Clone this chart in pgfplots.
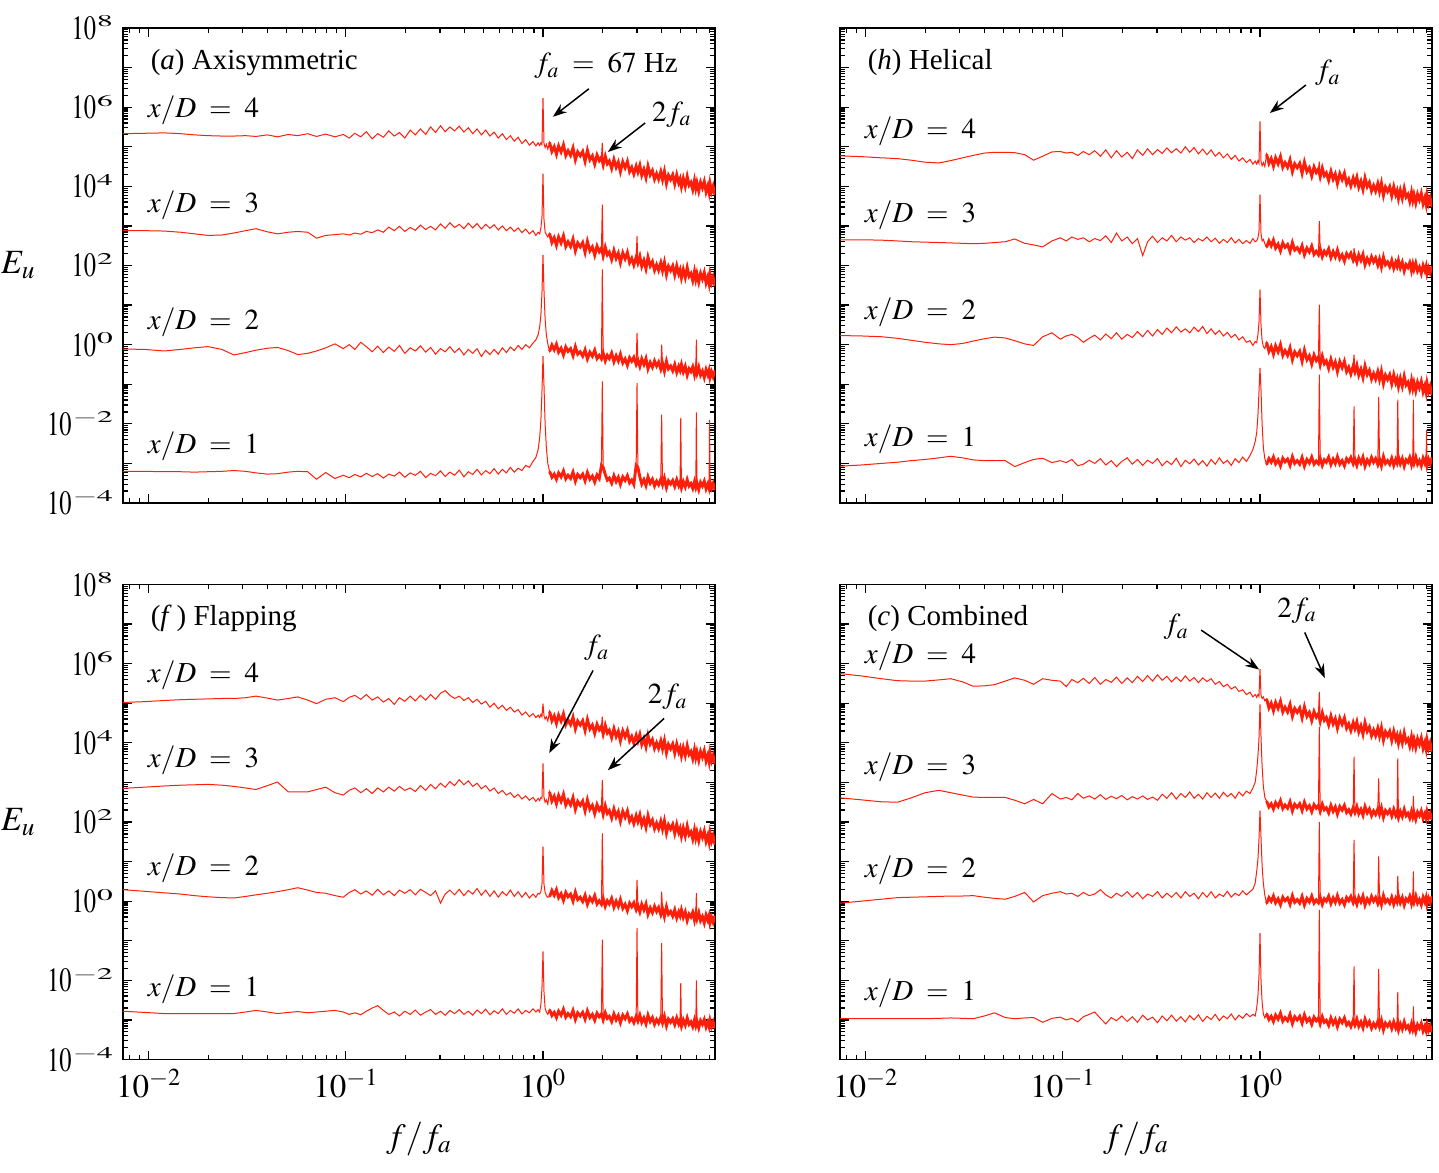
\documentclass[border=0pt]{standalone}
\usepackage{mathptmx}
\usepackage[no-math]{fontspec}
\setmainfont{Liberation Serif}
\usepackage{graphicx}
\usepackage{pgfplots}
\usepackage{pgfplotstable}
\pgfplotsset{compat=1.18}
\usetikzlibrary{arrows.meta}
\definecolor{specred}{RGB}{255,30,10}
\newcommand{\ytl}[1]{\scalebox{0.72}[1]{$10$}\kern0.6pt\raisebox{6.3pt}{\scalebox{1.25}[0.65]{$\scriptstyle #1$}}}
\newcommand{\xd}[1]{$x/D\;=\;#1$}

% TL: Axisymmetric   columns: f, x/D=4, 3, 2, 1  (log10 of E_u)
\pgfplotstableread{
f y4 y3 y2 y1
0.0074 5.33 2.88 -0.11 -3.20
0.0095 5.34 2.88 -0.12 -3.20
0.012 5.35 2.87 -0.16 -3.21
0.0145 5.33 2.84 -0.12 -3.21
0.017 5.30 2.80 -0.08 -3.22
0.02 5.28 2.76 -0.05 -3.21
0.0235 5.27 2.77 -0.12 -3.20
0.027 5.27 2.82 -0.26 -3.18
0.031 5.28 2.88 -0.20 -3.20
0.035 5.26 2.93 -0.14 -3.24
0.04 5.30 2.85 -0.09 -3.27
0.045 5.25 2.80 -0.07 -3.26
0.051 5.31 2.84 -0.15 -3.22
0.057 5.28 2.86 -0.25 -3.20
0.064 5.33 2.84 -0.22 -3.21
0.071 5.26 2.69 -0.16 -3.40
0.079 5.32 2.76 -0.08 -3.23
0.088 5.25 2.78 0.02 -3.38
0.097 5.31 2.80 -0.10 -3.30
0.104 5.22 2.77 0.00 -3.36
0.111 5.34 2.82 -0.12 -3.28
0.119 5.25 2.79 0.06 -3.34
0.127 5.38 2.86 -0.05 -3.25
0.136 5.20 2.83 -0.18 -3.33
0.145 5.33 2.90 -0.04 -3.26
0.155 5.24 2.84 -0.20 -3.37
0.165 5.40 2.97 -0.06 -3.27
0.176 5.27 2.88 -0.17 -3.32
0.187 5.36 2.99 -0.02 -3.22
0.199 5.22 2.86 -0.22 -3.35
0.212 5.42 2.96 -0.08 -3.24
0.225 5.30 2.89 -0.16 -3.30
0.239 5.45 3.02 -0.03 -3.20
0.254 5.31 2.91 -0.19 -3.36
0.269 5.50 2.99 -0.07 -3.25
0.285 5.36 2.90 -0.24 -3.31
0.302 5.53 3.05 -0.10 -3.19
0.319 5.38 2.94 -0.18 -3.33
0.337 5.50 3.08 -0.05 -3.22
0.356 5.40 2.96 -0.20 -3.30
0.376 5.52 3.04 -0.09 -3.17
0.397 5.37 2.93 -0.26 -3.34
0.418 5.48 3.07 -0.12 -3.21
0.44 5.33 2.95 -0.22 -3.28
0.463 5.45 3.06 -0.10 -3.15
0.487 5.30 2.92 -0.30 -3.29
0.512 5.42 3.04 -0.14 -3.18
0.538 5.27 2.94 -0.25 -3.26
0.565 5.37 3.03 -0.12 -3.13
0.593 5.22 2.90 -0.24 -3.27
0.622 5.33 3.00 -0.08 -3.15
0.652 5.18 2.88 -0.20 -3.24
0.683 5.28 2.97 -0.06 -3.10
0.715 5.14 2.86 -0.15 -3.22
0.748 5.24 2.95 -0.02 -3.12
0.782 5.08 2.83 -0.12 -3.18
0.817 5.18 2.92 0.00 -3.05
0.853 5.04 2.80 -0.08 -3.10
0.89 5.13 2.88 0.04 -2.95
0.92 5.02 2.76 0.12 -2.85
0.945 5.10 2.84 0.25 -2.65
0.962 5.03 2.80 0.45 -2.35
0.976 5.10 2.95 0.75 -1.90
0.988 5.05 3.20 1.30 -1.20
1.0 6.23 4.32 2.27 -0.29
1.012 5.08 3.15 1.35 -1.05
1.025 4.98 2.85 0.65 -2.00
1.04 5.06 2.78 0.25 -2.60
1.058 4.94 2.72 0.02 -3.00
1.08 5.11 2.81 -0.17 -3.20
1.11 4.88 2.58 -0.01 -3.35
1.14 5.00 2.70 -0.13 -3.27
1.17 4.81 2.51 0.01 -3.40
1.2 5.02 2.72 -0.19 -3.24
1.235 4.87 2.57 -0.09 -3.34
1.27 5.05 2.75 -0.26 -3.19
1.305 4.78 2.48 -0.06 -3.39
1.34 4.90 2.60 -0.17 -3.30
1.38 4.78 2.48 -0.10 -3.38
1.42 4.97 2.67 -0.28 -3.22
1.46 4.67 2.37 -0.05 -3.45
1.5 4.87 2.57 -0.24 -3.28
1.545 4.77 2.47 -0.18 -3.36
1.59 4.88 2.58 -0.29 -3.27
1.635 4.63 2.33 -0.13 -3.44
1.68 4.91 2.61 -0.36 -3.23
1.73 4.67 2.37 -0.19 -3.40
1.78 4.77 2.47 -0.29 -3.32
1.83 4.56 2.26 -0.14 -3.47
1.88 4.79 2.49 -0.35 -3.29
1.93 4.65 2.35 -0.27 -3.38
1.98 4.74 2.44 -0.36 -3.05
2.0 5.10 3.54 1.90 -0.93
2.02 4.54 2.24 -0.21 -3.10
2.07 4.76 2.46 -0.41 -3.28
2.12 4.57 2.27 -0.27 -3.42
2.17 4.64 2.34 -0.35 -3.37
2.23 4.45 2.15 -0.21 -3.50
2.29 4.68 2.38 -0.43 -3.31
2.35 4.48 2.18 -0.28 -3.46
2.41 4.61 2.31 -0.41 -3.35
2.47 4.37 2.07 -0.24 -3.53
2.54 4.62 2.32 -0.46 -3.34
2.61 4.47 2.17 -0.36 -3.43
2.68 4.63 2.33 -0.52 -3.31
2.75 4.37 2.07 -0.33 -3.49
2.82 4.48 2.18 -0.42 -3.42
2.89 4.31 2.01 -0.32 -3.53
2.97 4.51 2.21 -0.50 -3.05
3.0 4.42 2.74 0.30 -0.97
3.03 4.36 2.06 -0.39 -3.10
3.1 4.53 2.23 -0.55 -3.34
3.17 4.28 1.98 -0.36 -3.52
3.25 4.43 2.13 -0.50 -3.41
3.33 4.22 1.92 -0.35 -3.56
3.41 4.51 2.21 -0.61 -3.34
3.5 4.29 1.99 -0.45 -3.50
3.59 4.40 2.10 -0.57 -3.40
3.68 4.18 1.88 -0.41 -3.57
3.77 4.32 2.02 -0.54 -3.45
3.86 4.18 1.88 -0.44 -3.54
3.96 4.37 2.07 -0.62 -3.40
4.0 4.26 1.96 0.00 -1.77
4.04 4.17 1.87 -0.47 -3.54
4.13 4.38 2.08 -0.67 -3.37
4.23 4.07 1.77 -0.42 -3.61
4.33 4.28 1.98 -0.61 -3.44
4.44 4.17 1.87 -0.54 -3.52
4.55 4.29 1.99 -0.66 -3.43
4.66 4.06 1.76 -0.50 -3.58
4.77 4.29 1.99 -0.70 -3.41
4.88 4.09 1.79 -0.55 -3.56
4.96 4.19 1.89 -0.65 -3.47
5.0 4.13 1.83 -0.61 -1.85
5.04 3.99 1.69 -0.50 -3.62
5.15 4.20 1.90 -0.69 -3.46
5.27 4.00 1.70 -0.55 -3.59
5.39 4.25 1.95 -0.77 -3.41
5.51 4.03 1.73 -0.61 -3.57
5.63 4.10 1.80 -0.68 -3.51
5.75 3.92 1.62 -0.56 -3.63
5.87 4.15 1.85 -0.76 -3.46
5.96 3.95 1.65 -0.60 -3.60
6.0 4.03 1.73 0.13 -1.71
6.04 4.09 1.79 -0.73 -3.49
6.17 3.88 1.58 -0.57 -3.66
6.3 4.10 1.80 -0.77 -3.48
6.44 3.96 1.66 -0.67 -3.57
6.58 4.12 1.82 -0.83 -3.45
6.72 3.86 1.56 -0.63 -3.64
6.86 4.01 1.71 -0.76 -3.52
6.96 3.85 1.55 -0.65 -3.63
7.0 3.94 1.64 -0.73 -1.90
7.04 4.07 1.77 -0.83 -3.47
7.17 3.87 1.57 -0.69 -3.62
7.3 4.00 1.70 -0.81 -3.51
7.46 3.78 1.48 -0.65 -3.67
}\tabA

% TR: Helical
\pgfplotstableread{
f y4 y3 y2 y1
0.0074 4.77 2.65 0.23 -3.07
0.0095 4.75 2.65 0.22 -3.04
0.012 4.72 2.64 0.20 -3.00
0.0145 4.70 2.62 0.16 -2.97
0.017 4.66 2.60 0.11 -2.93
0.02 4.61 2.59 0.06 -2.90
0.0235 4.59 2.58 0.02 -2.86
0.027 4.65 2.57 0.00 -2.82
0.031 4.72 2.56 0.03 -2.86
0.035 4.78 2.55 0.09 -2.91
0.04 4.84 2.56 0.15 -2.93
0.045 4.86 2.58 0.19 -2.93
0.051 4.86 2.60 0.17 -2.93
0.057 4.85 2.67 0.10 -3.08
0.064 4.80 2.56 0.02 -2.98
0.071 4.66 2.52 -0.02 -2.90
0.079 4.76 2.47 0.20 -2.87
0.088 4.87 2.62 0.30 -2.98
0.097 4.88 2.70 0.14 -2.93
0.104 4.84 2.62 0.22 -2.98
0.111 4.86 2.72 0.26 -2.90
0.119 4.78 2.66 0.18 -3.06
0.127 4.88 2.70 0.06 -3.02
0.136 4.80 2.60 0.16 -2.92
0.145 4.90 2.68 0.24 -3.00
0.155 4.76 2.63 0.12 -2.88
0.165 4.92 2.75 0.27 -3.04
0.176 4.72 2.58 0.15 -2.93
0.187 4.90 2.82 0.30 -3.08
0.199 4.74 2.62 0.14 -2.95
0.212 4.86 2.72 0.26 -2.86
0.225 4.70 2.55 0.18 -3.02
0.239 4.92 2.68 0.33 -2.90
0.254 4.78 2.25 0.20 -3.05
0.269 4.95 2.60 0.36 -2.92
0.285 4.80 2.74 0.22 -3.00
0.302 4.93 2.58 0.38 -2.88
0.319 4.83 2.70 0.26 -3.06
0.337 4.97 2.62 0.42 -2.94
0.356 4.85 2.76 0.30 -3.03
0.376 4.95 2.60 0.45 -2.87
0.397 4.84 2.72 0.32 -3.08
0.418 5.00 2.64 0.40 -2.92
0.44 4.86 2.70 0.30 -3.01
0.463 4.98 2.58 0.44 -2.89
0.487 4.82 2.68 0.33 -3.04
0.512 4.94 2.62 0.46 -2.93
0.538 4.80 2.72 0.28 -3.07
0.565 4.92 2.60 0.40 -2.90
0.593 4.76 2.69 0.26 -3.02
0.622 4.86 2.56 0.36 -2.86
0.652 4.72 2.66 0.22 -3.00
0.683 4.82 2.58 0.31 -2.92
0.715 4.68 2.70 0.18 -3.05
0.748 4.78 2.57 0.26 -2.88
0.782 4.64 2.66 0.12 -2.98
0.817 4.72 2.55 0.20 -2.84
0.853 4.60 2.63 0.06 -2.95
0.89 4.68 2.56 0.10 -2.80
0.92 4.56 2.68 -0.02 -2.65
0.945 4.64 2.60 0.08 -2.45
0.962 4.56 2.62 0.05 -2.23
0.976 4.65 2.70 0.25 -1.80
0.988 4.58 2.85 0.55 -1.20
1.0 5.64 3.79 1.39 -0.59
1.012 4.62 2.80 0.50 -1.15
1.025 4.52 2.62 0.10 -2.00
1.04 4.60 2.66 -0.05 -2.60
1.058 4.50 2.55 -0.10 -2.88
1.08 4.81 2.46 0.06 -3.03
1.11 4.58 2.62 -0.17 -2.88
1.14 4.70 2.50 -0.05 -2.97
1.17 4.51 2.64 -0.24 -2.84
1.2 4.72 2.44 -0.03 -3.01
1.235 4.57 2.54 -0.18 -2.91
1.27 4.75 2.37 0.00 -3.06
1.305 4.48 2.57 -0.27 -2.87
1.34 4.60 2.46 -0.15 -2.96
1.38 4.48 2.53 -0.27 -2.89
1.42 4.67 2.35 -0.08 -3.05
1.46 4.37 2.58 -0.38 -2.83
1.5 4.57 2.39 -0.18 -3.00
1.545 4.47 2.45 -0.28 -2.93
1.59 4.58 2.34 -0.17 -3.02
1.635 4.33 2.50 -0.42 -2.85
1.68 4.61 2.27 -0.14 -3.07
1.73 4.37 2.44 -0.38 -2.90
1.78 4.47 2.34 -0.28 -2.99
1.83 4.26 2.49 -0.49 -2.84
1.88 4.49 2.28 -0.26 -3.02
1.93 4.35 2.36 -0.40 -2.94
1.98 4.44 2.27 -0.31 -3.01
2.0 4.62 3.12 1.01 -0.76
2.02 4.24 2.42 -0.51 -2.87
2.07 4.46 2.22 -0.29 -3.05
2.12 4.27 2.36 -0.48 -2.91
2.17 4.34 2.28 -0.41 -2.97
2.23 4.15 2.42 -0.60 -2.84
2.29 4.38 2.20 -0.37 -3.03
2.35 4.18 2.35 -0.57 -2.89
2.41 4.31 2.22 -0.44 -3.00
2.47 4.07 2.39 -0.68 -2.83
2.54 4.32 2.17 -0.43 -3.02
2.61 4.17 2.27 -0.58 -2.93
2.68 4.33 2.11 -0.42 -3.06
2.75 4.07 2.30 -0.68 -2.88
2.82 4.18 2.21 -0.57 -2.96
2.89 4.01 2.31 -0.74 -2.85
2.97 4.21 2.13 -0.54 -3.01
3.0 4.12 2.44 -0.25 -1.56
3.03 4.06 2.24 -0.69 -2.90
3.1 4.23 2.08 -0.52 -3.05
3.17 3.98 2.27 -0.77 -2.87
3.25 4.13 2.13 -0.62 -2.99
3.33 3.92 2.28 -0.83 -2.84
3.41 4.21 2.02 -0.54 -3.07
3.5 3.99 2.18 -0.76 -2.91
3.59 4.10 2.06 -0.65 -3.01
3.68 3.88 2.22 -0.87 -2.85
3.77 4.02 2.09 -0.73 -2.97
3.86 3.88 2.19 -0.87 -2.88
3.96 4.07 2.01 -0.68 -3.03
4.0 3.96 2.09 -0.79 -1.32
4.04 3.87 2.16 -0.88 -2.89
4.13 4.08 1.96 -0.67 -3.06
4.23 3.77 2.21 -0.98 -2.83
4.33 3.98 2.02 -0.77 -3.00
4.44 3.87 2.09 -0.88 -2.93
4.55 3.99 1.97 -0.76 -3.02
4.66 3.76 2.13 -0.99 -2.87
4.77 3.99 1.93 -0.76 -3.05
4.88 3.79 2.08 -0.96 -2.90
4.96 3.89 1.98 -0.86 -2.99
5.0 3.83 2.02 -0.92 -1.39
5.04 3.69 2.13 -1.06 -2.84
5.15 3.90 1.94 -0.85 -3.01
5.27 3.70 2.08 -1.05 -2.88
5.39 3.95 1.86 -0.80 -3.07
5.51 3.73 2.02 -1.02 -2.91
5.63 3.80 1.95 -0.95 -2.97
5.75 3.62 2.07 -1.13 -2.85
5.87 3.85 1.87 -0.90 -3.03
5.96 3.65 2.03 -1.10 -2.89
6.0 3.73 1.95 -1.02 -1.39
6.04 3.79 1.90 -0.96 -3.00
6.17 3.58 2.06 -1.17 -2.84
6.3 3.80 1.86 -0.95 -3.02
6.44 3.66 1.96 -1.09 -2.93
6.58 3.82 1.80 -0.93 -3.06
6.72 3.56 2.00 -1.19 -2.87
6.86 3.71 1.87 -1.04 -2.99
6.96 3.55 1.98 -1.20 -2.88
7.0 3.64 1.90 -1.11 -2.15
7.04 3.77 1.80 -0.98 -3.05
7.17 3.57 1.94 -1.18 -2.90
7.3 3.70 1.82 -1.05 -3.01
7.46 3.48 1.98 -1.27 -2.85
}\tabB

% BL: Flapping
\pgfplotstableread{
f y4 y3 y2 y1
0.0074 5.02 2.85 0.29 -2.78
0.0095 5.04 2.88 0.25 -2.81
0.012 5.07 2.91 0.21 -2.84
0.0145 5.09 2.93 0.18 -2.84
0.017 5.10 2.94 0.14 -2.84
0.02 5.11 2.95 0.11 -2.84
0.0235 5.12 2.93 0.09 -2.84
0.027 5.12 2.90 0.08 -2.84
0.031 5.14 2.86 0.12 -2.80
0.035 5.18 2.82 0.16 -2.76
0.04 5.13 2.92 0.20 -2.80
0.045 5.08 3.01 0.24 -2.84
0.051 5.12 2.76 0.29 -2.81
0.057 5.16 2.76 0.34 -2.79
0.064 5.08 2.76 0.28 -2.82
0.071 4.99 2.82 0.22 -2.80
0.079 5.10 2.88 0.20 -2.78
0.088 5.14 2.74 0.14 -2.76
0.097 5.04 2.68 0.10 -2.80
0.104 5.15 2.80 0.22 -2.86
0.111 5.20 2.86 0.29 -2.82
0.119 5.10 2.74 0.18 -2.87
0.127 5.22 2.84 0.26 -2.78
0.136 5.08 2.72 0.15 -2.70
0.145 5.16 2.86 0.30 -2.64
0.155 5.03 2.76 0.16 -2.76
0.165 5.12 2.88 0.26 -2.86
0.176 4.97 2.78 0.14 -2.80
0.187 5.14 2.90 0.28 -2.90
0.199 5.05 2.80 0.20 -2.78
0.212 5.18 2.86 0.29 -2.86
0.225 5.06 2.77 0.16 -2.75
0.239 5.20 2.92 0.30 -2.88
0.254 5.08 2.80 0.22 -2.80
0.269 5.22 2.95 0.14 -2.74
0.285 5.10 2.84 0.26 -2.86
0.302 5.25 2.98 -0.05 -2.78
0.319 5.32 2.88 0.18 -2.88
0.337 5.20 3.02 0.28 -2.76
0.356 5.12 2.92 0.16 -2.84
0.376 5.18 3.07 0.30 -2.74
0.397 5.07 2.94 0.14 -2.86
0.418 5.14 3.04 0.27 -2.78
0.44 5.02 2.90 0.18 -2.88
0.463 5.10 2.98 0.32 -2.75
0.487 4.98 2.84 0.15 -2.84
0.512 5.05 2.92 0.28 -2.73
0.538 4.90 2.78 0.12 -2.87
0.565 5.00 2.86 0.26 -2.77
0.593 4.86 2.72 0.10 -2.84
0.622 4.95 2.80 0.24 -2.72
0.652 4.82 2.68 0.14 -2.86
0.683 4.90 2.74 0.28 -2.76
0.715 4.78 2.62 0.12 -2.83
0.748 4.84 2.70 0.24 -2.72
0.782 4.70 2.58 0.10 -2.85
0.817 4.78 2.66 0.22 -2.76
0.853 4.66 2.55 0.08 -2.82
0.89 4.74 2.62 0.18 -2.72
0.92 4.64 2.52 0.10 -2.80
0.945 4.70 2.60 0.20 -2.74
0.962 4.64 2.54 0.18 -2.80
0.976 4.72 2.62 0.25 -2.60
0.988 4.66 2.60 0.40 -2.20
1.0 4.99 3.48 1.38 -1.27
1.012 4.68 2.62 0.42 -2.30
1.025 4.60 2.50 0.22 -2.70
1.04 4.66 2.56 0.14 -2.80
1.058 4.55 2.45 0.10 -2.86
1.08 4.79 2.76 0.11 -2.74
1.11 4.56 2.53 0.27 -2.89
1.14 4.68 2.65 0.15 -2.81
1.17 4.49 2.46 0.29 -2.94
1.2 4.70 2.67 0.09 -2.78
1.235 4.55 2.52 0.19 -2.88
1.27 4.73 2.70 0.02 -2.73
1.305 4.46 2.43 0.22 -2.93
1.34 4.58 2.55 0.11 -2.84
1.38 4.46 2.43 0.18 -2.92
1.42 4.65 2.62 0.00 -2.76
1.46 4.35 2.32 0.23 -2.99
1.5 4.55 2.52 0.04 -2.82
1.545 4.45 2.42 0.10 -2.90
1.59 4.56 2.53 -0.01 -2.81
1.635 4.31 2.28 0.15 -2.98
1.68 4.59 2.56 -0.08 -2.77
1.73 4.35 2.32 0.09 -2.94
1.78 4.45 2.42 -0.01 -2.86
1.83 4.24 2.21 0.14 -3.01
1.88 4.47 2.44 -0.07 -2.83
1.93 4.33 2.30 0.01 -2.92
1.98 4.42 2.39 -0.08 -2.85
2.0 4.66 3.06 1.71 -0.97
2.02 4.22 2.19 0.07 -3.00
2.07 4.44 2.41 -0.13 -2.82
2.12 4.25 2.22 0.01 -2.96
2.17 4.32 2.29 -0.07 -2.91
2.23 4.13 2.10 0.07 -3.04
2.29 4.36 2.33 -0.15 -2.85
2.35 4.16 2.13 0.00 -3.00
2.41 4.29 2.26 -0.13 -2.89
2.47 4.05 2.02 0.04 -3.07
2.54 4.30 2.27 -0.18 -2.88
2.61 4.15 2.12 -0.08 -2.97
2.68 4.31 2.28 -0.24 -2.85
2.75 4.05 2.02 -0.05 -3.03
2.82 4.16 2.13 -0.14 -2.96
2.89 3.99 1.96 -0.04 -3.07
2.97 4.19 2.16 -0.22 -2.91
3.0 4.10 2.07 0.54 -0.68
3.03 4.04 2.01 -0.11 -3.03
3.1 4.21 2.18 -0.27 -2.88
3.17 3.96 1.93 -0.08 -3.06
3.25 4.11 2.08 -0.22 -2.95
3.33 3.90 1.87 -0.07 -3.10
3.41 4.19 2.16 -0.33 -2.88
3.5 3.97 1.94 -0.17 -3.04
3.59 4.08 2.05 -0.29 -2.94
3.68 3.86 1.83 -0.13 -3.11
3.77 4.00 1.97 -0.26 -2.99
3.86 3.86 1.83 -0.16 -3.08
3.96 4.05 2.02 -0.34 -2.94
4.0 3.94 1.91 0.24 -1.06
4.04 3.85 1.82 -0.19 -3.08
4.13 4.06 2.03 -0.39 -2.91
4.23 3.75 1.72 -0.14 -3.15
4.33 3.96 1.93 -0.33 -2.98
4.44 3.85 1.82 -0.26 -3.06
4.55 3.97 1.94 -0.38 -2.97
4.66 3.74 1.71 -0.22 -3.12
4.77 3.97 1.94 -0.42 -2.95
4.88 3.77 1.74 -0.27 -3.10
4.96 3.87 1.84 -0.37 -3.01
5.0 3.81 1.78 -0.33 -2.07
5.04 3.67 1.64 -0.22 -3.16
5.15 3.88 1.85 -0.41 -3.00
5.27 3.68 1.65 -0.27 -3.13
5.39 3.93 1.90 -0.49 -2.95
5.51 3.71 1.68 -0.33 -3.11
5.63 3.78 1.75 -0.40 -3.05
5.75 3.60 1.57 -0.28 -3.17
5.87 3.83 1.80 -0.48 -3.00
5.96 3.63 1.60 -0.32 -3.14
6.0 3.71 1.68 0.20 -2.00
6.04 3.77 1.74 -0.45 -3.03
6.17 3.56 1.53 -0.29 -3.20
6.3 3.78 1.75 -0.49 -3.02
6.44 3.64 1.61 -0.39 -3.11
6.58 3.80 1.77 -0.55 -2.99
6.72 3.54 1.51 -0.35 -3.18
6.86 3.69 1.66 -0.48 -3.06
6.96 3.53 1.50 -0.37 -3.17
7.0 3.62 1.59 -0.45 -3.10
7.04 3.75 1.72 -0.55 -3.01
7.17 3.55 1.52 -0.41 -3.16
7.3 3.68 1.65 -0.53 -3.05
7.46 3.46 1.43 -0.37 -3.21
}\tabC

% BR: Combined
\pgfplotstableread{
f y4 y3 y2 y1
0.0074 5.75 2.61 -0.05 -2.97
0.0095 5.69 2.56 0.00 -2.97
0.012 5.62 2.51 0.05 -2.97
0.0145 5.57 2.50 0.09 -2.97
0.017 5.56 2.61 0.10 -2.97
0.02 5.56 2.74 0.11 -2.97
0.0235 5.59 2.80 0.12 -2.96
0.027 5.62 2.74 0.13 -2.95
0.031 5.54 2.68 0.13 -2.96
0.035 5.43 2.63 0.14 -2.97
0.04 5.44 2.62 0.10 -2.90
0.045 5.47 2.62 0.07 -2.82
0.051 5.56 2.62 0.05 -2.94
0.057 5.64 2.55 0.12 -2.97
0.064 5.58 2.46 0.22 -2.95
0.071 5.48 2.57 -0.02 -2.94
0.079 5.62 2.46 0.14 -3.06
0.088 5.58 2.72 0.20 -2.96
0.097 5.56 2.58 0.24 -2.93
0.104 5.42 2.62 0.18 -3.00
0.111 5.60 2.56 0.20 -2.96
0.119 5.52 2.72 0.12 -3.05
0.127 5.63 2.60 0.22 -2.92
0.136 5.50 2.66 0.14 -2.86
0.145 5.65 2.58 0.18 -2.80
0.155 5.48 2.69 0.29 -2.96
0.165 5.60 2.57 0.16 -3.10
0.176 5.53 2.65 0.08 -2.94
0.187 5.66 2.59 0.20 -3.02
0.199 5.50 2.67 0.12 -2.90
0.212 5.64 2.56 0.24 -3.04
0.225 5.52 2.64 0.10 -2.92
0.239 5.68 2.58 0.22 -3.06
0.254 5.55 2.66 0.06 -2.88
0.269 5.70 2.57 0.18 -3.00
0.285 5.56 2.63 0.12 -2.93
0.302 5.72 2.55 0.24 -3.07
0.319 5.58 2.70 0.08 -2.90
0.337 5.68 2.60 0.20 -3.02
0.356 5.54 2.74 0.10 -2.88
0.376 5.66 2.58 0.22 -3.03
0.397 5.55 2.72 0.08 -2.92
0.418 5.69 2.62 0.24 -3.05
0.44 5.56 2.76 0.12 -2.89
0.463 5.65 2.60 0.20 -3.00
0.487 5.52 2.70 0.06 -2.87
0.512 5.64 2.58 0.22 -3.04
0.538 5.55 2.74 0.10 -2.91
0.565 5.62 2.62 0.24 -2.99
0.593 5.48 2.73 0.08 -2.86
0.622 5.55 2.60 0.18 -3.02
0.652 5.42 2.75 0.12 -2.90
0.683 5.48 2.64 0.25 -2.97
0.715 5.36 2.72 0.10 -2.85
0.748 5.42 2.60 0.20 -3.00
0.782 5.30 2.76 0.14 -2.88
0.817 5.34 2.66 0.26 -2.96
0.853 5.22 2.78 0.16 -2.84
0.89 5.28 2.72 0.24 -2.92
0.92 5.16 2.86 0.30 -2.86
0.945 5.22 3.00 0.45 -2.90
0.962 5.15 3.30 0.75 -2.70
0.976 5.22 3.66 1.05 -2.40
0.988 5.17 4.10 1.55 -1.90
1.0 5.86 4.97 2.29 -0.81
1.012 5.20 4.15 1.60 -2.00
1.025 5.12 3.40 0.90 -2.55
1.04 5.16 2.90 0.45 -2.85
1.058 5.06 2.62 0.15 -2.95
1.08 5.11 2.53 -0.06 -2.84
1.11 4.88 2.38 0.09 -2.99
1.14 5.00 2.46 0.00 -2.91
1.17 4.81 2.33 0.13 -3.04
1.2 5.02 2.49 -0.04 -2.88
1.235 4.87 2.39 0.06 -2.98
1.27 5.05 2.54 -0.09 -2.83
1.305 4.78 2.34 0.10 -3.03
1.34 4.90 2.43 0.01 -2.94
1.38 4.78 2.35 0.08 -3.02
1.42 4.97 2.51 -0.08 -2.86
1.46 4.67 2.28 0.14 -3.09
1.5 4.87 2.45 -0.03 -2.92
1.545 4.77 2.37 0.04 -3.00
1.59 4.88 2.46 -0.05 -2.91
1.635 4.63 2.29 0.12 -3.08
1.68 4.91 2.50 -0.10 -2.87
1.73 4.67 2.33 0.07 -3.04
1.78 4.77 2.41 -0.02 -2.96
1.83 4.56 2.26 0.13 -3.11
1.88 4.79 2.44 -0.05 -2.93
1.93 4.65 2.35 0.03 -3.02
1.98 4.74 2.42 -0.04 -2.95
2.0 5.29 4.40 2.00 -0.22
2.02 4.54 2.27 0.10 -3.10
2.07 4.76 2.45 -0.08 -2.92
2.12 4.57 2.31 0.06 -3.06
2.17 4.64 2.36 0.00 -3.01
2.23 4.45 2.23 0.13 -3.14
2.29 4.68 2.42 -0.06 -2.95
2.35 4.48 2.27 0.08 -3.10
2.41 4.61 2.38 -0.03 -2.99
2.47 4.37 2.20 0.14 -3.17
2.54 4.62 2.39 -0.05 -2.98
2.61 4.47 2.30 0.04 -3.07
2.68 4.63 2.42 -0.09 -2.95
2.75 4.37 2.24 0.09 -3.13
2.82 4.48 2.31 0.01 -3.06
2.89 4.31 2.20 0.12 -3.17
2.97 4.51 2.36 -0.04 -3.01
3.0 4.42 3.65 1.55 -1.65
3.03 4.36 2.24 0.07 -3.13
3.1 4.53 2.39 -0.08 -2.98
3.17 4.28 2.21 0.10 -3.16
3.25 4.43 2.32 -0.02 -3.05
3.33 4.22 2.17 0.13 -3.20
3.41 4.51 2.39 -0.10 -2.98
3.5 4.29 2.23 0.06 -3.14
3.59 4.40 2.33 -0.04 -3.04
3.68 4.18 2.16 0.12 -3.21
3.77 4.32 2.28 0.00 -3.09
3.86 4.18 2.19 0.09 -3.18
3.96 4.37 2.33 -0.06 -3.04
4.0 4.26 3.10 1.13 -1.71
4.04 4.17 2.19 0.08 -3.18
4.13 4.38 2.36 -0.09 -3.01
4.23 4.07 2.12 0.14 -3.25
4.33 4.28 2.29 -0.03 -3.08
4.44 4.17 2.21 0.04 -3.16
4.55 4.29 2.30 -0.05 -3.07
4.66 4.06 2.15 0.10 -3.22
4.77 4.29 2.32 -0.08 -3.05
4.88 4.09 2.17 0.07 -3.20
4.96 4.19 2.26 -0.02 -3.11
5.0 4.13 3.61 0.64 -2.30
5.04 3.99 2.11 0.13 -3.26
5.15 4.20 2.27 -0.04 -3.10
5.27 4.00 2.14 0.09 -3.23
5.39 4.25 2.32 -0.10 -3.05
5.51 4.03 2.16 0.06 -3.21
5.63 4.10 2.22 0.00 -3.15
5.75 3.92 2.10 0.12 -3.27
5.87 4.15 2.27 -0.06 -3.10
5.96 3.95 2.13 0.08 -3.24
6.0 4.03 2.66 0.75 -2.66
6.04 4.09 2.24 -0.03 -3.13
6.17 3.88 2.07 0.13 -3.30
6.3 4.10 2.25 -0.05 -3.12
6.44 3.96 2.16 0.04 -3.21
6.58 4.12 2.28 -0.09 -3.09
6.72 3.86 2.09 0.10 -3.28
6.86 4.01 2.21 -0.02 -3.16
6.96 3.85 2.10 0.09 -3.27
7.0 3.94 2.17 0.02 -3.20
7.04 4.07 2.26 -0.08 -3.11
7.17 3.87 2.11 0.07 -3.26
7.3 4.00 2.22 -0.04 -3.15
7.46 3.78 2.06 0.12 -3.31
}\tabD

\pgfplotsset{
  mypanel/.style={
    scale only axis, width=296pt, height=237.5pt,
    xmin=0.0074, xmax=7.46, ymin=1e-4, ymax=1e8,
    xtick={0.01,0.1,1},
    minor xtick={0.008,0.009,0.02,0.03,0.04,0.05,0.06,0.07,0.08,0.09,0.2,0.3,0.4,0.5,0.6,0.7,0.8,0.9,2,3,4,5,6,7},
    ytick={1e-4,1e-3,1e-2,1e-1,1,1e1,1e2,1e3,1e4,1e5,1e6,1e7,1e8},
    minor ytick={2e-4,3e-4,4e-4,5e-4,6e-4,7e-4,8e-4,9e-4,2e-3,3e-3,4e-3,5e-3,6e-3,7e-3,8e-3,9e-3,2e-2,3e-2,4e-2,5e-2,6e-2,7e-2,8e-2,9e-2,0.2,0.3,0.4,0.5,0.6,0.7,0.8,0.9,2,3,4,5,6,7,8,9,20,30,40,50,60,70,80,90,200,300,400,500,600,700,800,900,2e3,3e3,4e3,5e3,6e3,7e3,8e3,9e3,2e4,3e4,4e4,5e4,6e4,7e4,8e4,9e4,2e5,3e5,4e5,5e5,6e5,7e5,8e5,9e5,2e6,3e6,4e6,5e6,6e6,7e6,8e6,9e6,2e7,3e7,4e7,5e7,6e7,7e7,8e7,9e7},
    tick align=inside,
    major tick length=4.5pt, minor tick length=2.3pt,
    every tick/.style={black, line width=0.6pt},
    axis line style={line width=0.9pt},
    xticklabels={}, yticklabels={},
    xticklabel style={font=\fontsize{16.5}{19}\selectfont},
    yticklabel style={font=\fontsize{17}{20}\selectfont},
  },
  myleft/.style={
    yticklabels={\ytl{-4},,\ytl{-2},,\ytl{0},,\ytl{2},,\ytl{4},,\ytl{6},,\ytl{8}},
    ylabel={$E_u$},
    every axis y label/.style={at={(rel axis cs:-0.177,0.5)},anchor=center,font=\fontsize{17}{20}\selectfont},
  },
  mybottom/.style={
    xticklabels={$10^{-2}$,$10^{-1}$,$10^{0}$},
    xlabel={$f/f_a$},
    every axis x label/.style={at={(rel axis cs:0.5,-0.168)},anchor=center,font=\fontsize{17}{20}\selectfont},
  },
}
\tikzset{
  myspec/.style={color=specred, line width=0.5pt},
  myarr/.style={-{Stealth[length=7pt,width=5pt]}, line width=0.75pt, black},
}
% one spectrum: thin line over the whole range, and a heavier line for the
% dense high-frequency band (rows from f=1.08 on, harmonic spike rows left to the thin line)
\newcommand{\specplot}[2]{%
  \addplot[myspec] table[x=f, y expr={10^(\thisrow{#2})}] {#1};
  \addplot[myspec, line width=1.45pt,
    skip coords between index={0}{69},
    skip coords between index={92}{93},
    skip coords between index={109}{110},
    skip coords between index={122}{123},
    skip coords between index={133}{134},
    skip coords between index={143}{144},
    skip coords between index={152}{153}] table[x=f, y expr={10^(\thisrow{#2})}] {#1};
}

\begin{document}
\fontsize{14.5}{17}\selectfont
\begin{tikzpicture}
\useasboundingbox (0,0) rectangle (719.5pt,586pt);

% ---------- (a) Axisymmetric ----------
\begin{loglogaxis}[mypanel, myleft, at={(61.5pt,334.5pt)}, anchor=south west]
\specplot{\tabA}{y4}
\specplot{\tabA}{y3}
\specplot{\tabA}{y2}
\specplot{\tabA}{y1}
\node[anchor=west] at (rel axis cs:0.030,0.928) {(\textit{a}) Axisymmetric};
\node[anchor=west] at (rel axis cs:0.025,0.827) {\xd{4}};
\node[anchor=west] at (rel axis cs:0.025,0.627) {\xd{3}};
\node[anchor=west] at (rel axis cs:0.025,0.381) {\xd{2}};
\node[anchor=west] at (rel axis cs:0.025,0.120) {\xd{1}};
\node at (rel axis cs:0.816,0.920) {$f_a\;=\;67$ Hz};
\draw[myarr] (rel axis cs:0.787,0.872) -- (rel axis cs:0.726,0.813);
\node at (rel axis cs:0.927,0.817) {$2f_a$};
\draw[myarr] (rel axis cs:0.882,0.800) -- (rel axis cs:0.819,0.739);
\end{loglogaxis}

% ---------- (h) Helical ----------
\begin{loglogaxis}[mypanel, at={(420pt,334.5pt)}, anchor=south west]
\specplot{\tabB}{y4}
\specplot{\tabB}{y3}
\specplot{\tabB}{y2}
\specplot{\tabB}{y1}
\node[anchor=west] at (rel axis cs:0.030,0.928) {(\textit{h}) Helical};
\node[anchor=west] at (rel axis cs:0.025,0.783) {\xd{4}};
\node[anchor=west] at (rel axis cs:0.025,0.606) {\xd{3}};
\node[anchor=west] at (rel axis cs:0.025,0.402) {\xd{2}};
\node[anchor=west] at (rel axis cs:0.025,0.133) {\xd{1}};
\node at (rel axis cs:0.824,0.905) {$f_a$};
\draw[myarr] (rel axis cs:0.787,0.880) -- (rel axis cs:0.726,0.821);
\end{loglogaxis}

% ---------- (f) Flapping ----------
\begin{loglogaxis}[mypanel, myleft, mybottom, at={(61.5pt,56.25pt)}, anchor=south west]
\specplot{\tabC}{y4}
\specplot{\tabC}{y3}
\specplot{\tabC}{y2}
\specplot{\tabC}{y1}
\node[anchor=west] at (rel axis cs:0.030,0.929) {(\textit{f}\,) Flapping};
\node[anchor=west] at (rel axis cs:0.025,0.809) {\xd{4}};
\node[anchor=west] at (rel axis cs:0.025,0.630) {\xd{3}};
\node[anchor=west] at (rel axis cs:0.025,0.403) {\xd{2}};
\node[anchor=west] at (rel axis cs:0.025,0.147) {\xd{1}};
\node at (rel axis cs:0.800,0.866) {$f_a$};
\draw[myarr] (rel axis cs:0.794,0.819) -- (rel axis cs:0.720,0.645);
\node at (rel axis cs:0.920,0.763) {$2f_a$};
\draw[myarr] (rel axis cs:0.914,0.718) -- (rel axis cs:0.819,0.609);
\end{loglogaxis}

% ---------- (c) Combined ----------
\begin{loglogaxis}[mypanel, mybottom, at={(420pt,56.25pt)}, anchor=south west]
\specplot{\tabD}{y4}
\specplot{\tabD}{y3}
\specplot{\tabD}{y2}
\specplot{\tabD}{y1}
\node[anchor=west] at (rel axis cs:0.030,0.929) {(\textit{c}) Combined};
\node[anchor=west] at (rel axis cs:0.025,0.849) {\xd{4}};
\node[anchor=west] at (rel axis cs:0.025,0.616) {\xd{3}};
\node[anchor=west] at (rel axis cs:0.025,0.399) {\xd{2}};
\node[anchor=west] at (rel axis cs:0.025,0.139) {\xd{1}};
\node at (rel axis cs:0.568,0.910) {$f_a$};
\draw[myarr] (rel axis cs:0.610,0.904) -- (rel axis cs:0.708,0.821);
\node at (rel axis cs:0.772,0.945) {$2f_a$};
\draw[myarr] (rel axis cs:0.785,0.899) -- (rel axis cs:0.819,0.803);
\end{loglogaxis}
\end{tikzpicture}
\end{document}
